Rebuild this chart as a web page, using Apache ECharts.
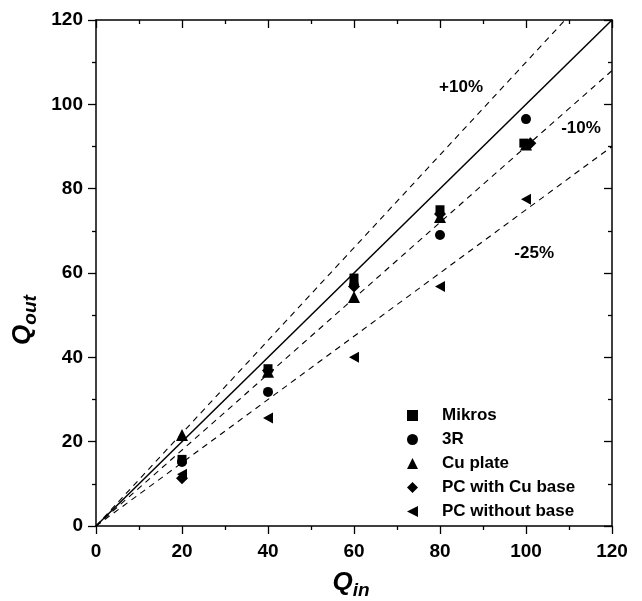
<!DOCTYPE html>
<html><head><meta charset="utf-8">
<script src="https://cdn.jsdelivr.net/npm/echarts@6/dist/echarts.min.js"></script>
<style>html,body{margin:0;padding:0;background:#fff}#c{width:642px;height:601px}</style>
</head><body><div id="c"></div>
<script>
const seriesNames = ['Mikros', '3R', 'Cu plate', 'PC with Cu base', 'PC without base'];
const mikros = [[20,15.8],[40,37.3],[60,58.8],[80,75.0],[99.5,90.8]];
const r3 = [[20,15.2],[40,31.8],[60,57.2],[80,69.0],[100,96.5]];
const cuPlate = [[20,21.6],[40,36.6],[60,54.3],[80,73.3],[100,90.5]];
const pcCuBase = [[20,11.3],[40,36.9],[60,56.8],[80,74.0],[101,90.8]];
const pcNoBase = [[20,12.3],[40,25.6],[60,40.0],[80,56.8],[100,77.5]];
const xTicks = [0,20,40,60,80,100,120];
const yTicks = [0,20,40,60,80,100,120];
const parityLine = [[0,0],[120,120]];
const plus10 = [[0,0],[109.09,120]];
const minus10 = [[0,0],[120,108]];
const minus25 = [[0,0],[120,90]];
const annotTexts = ['+10%','-10%','-25%'];
const annotAt = [[84.9,104.1],[112.8,94.4],[101.9,64.7]];

const font = 'Liberation Sans, Arial, Helvetica, sans-serif';
const leftTri = 'path://M0,5L10,0L10,10Z';
const symbols = ['rect','circle','triangle','diamond',leftTri];
const symSizes = [9,10,12,12,[10,11]];
const chart = echarts.init(document.getElementById('c'), null, {renderer:'canvas'});
const axisLine = {show:true, onZero:false, lineStyle:{color:'#000', width:1.5}};
function mkX(pos, labels){
  return {type:'value', position:pos, min:0, max:120, interval:20,
    axisLine: axisLine, splitLine:{show:false},
    axisTick:{show:true, inside: !labels, length:8, lineStyle:{color:'#000', width:1.3}},
    minorTick:{show:true, splitNumber:2, length:4, lineStyle:{color:'#000', width:1.3}},
    axisLabel:{show:labels, color:'#000', fontFamily:font, fontWeight:'bold', fontSize:19,
      margin: (pos==='bottom') ? 16 : 13}};
}
function sc(i, data){
  return {name:seriesNames[i], type:'scatter', data:data, symbol:symbols[i], symbolSize:symSizes[i],
    itemStyle:{color:'#000', opacity:1}, z:5};
}
function ln(data, dashed){
  return {type:'line', data:data, symbol:'none', silent:true, z:2,
    lineStyle:{color:'#000', width: dashed?1.1:1.5, type: dashed?[6,5]:'solid', opacity:1}};
}
const titleRich = {q:{fontFamily:font, fontWeight:'bold', fontStyle:'italic', fontSize:26, color:'#000'},
        s:{fontFamily:font, fontWeight:'bold', fontStyle:'italic', fontSize:19, color:'#000', padding:[16,0,0,0]}};
const option = {
  animation:false,
  backgroundColor:'#fff',
  grid:{left:96, top:20, width:516, height:506, containLabel:false, outerBoundsMode:'none'},
  xAxis:[
    Object.assign(mkX('bottom', true), {name:'{q|Q}{s|in}', nameLocation:'middle', nameGap:39,
      nameTextStyle:{rich:titleRich, padding:[0,6,0,0]}}),
    mkX('top', false)
  ],
  yAxis:[
    Object.assign(mkX('left', true), {name:'{q|Q}{s|out}', nameLocation:'middle', nameGap:56,
      nameTextStyle:{rich:titleRich, padding:[0,94,0,0]}}),
    mkX('right', false)
  ],
  legend:{orient:'vertical', left:402, top:402, itemWidth:11, itemHeight:11, itemGap:7,
    data: seriesNames.map((n,i)=>({name:n, icon:symbols[i]})),
    textStyle:{fontFamily:font, fontWeight:'bold', fontSize:17, color:'#000', lineHeight:17, padding:[0,0,0,19]}},
  series:[
    ln(parityLine,false), ln(plus10,true), ln(minus10,true), ln(minus25,true),
    sc(0, mikros), sc(1, r3), sc(2, cuPlate), sc(3, pcCuBase), sc(4, pcNoBase),
    {type:'scatter', symbolSize:0, silent:true, z:6, itemStyle:{opacity:1},
      data: annotTexts.map((t,i)=>({value:annotAt[i], name:t})),
      label:{show:true, position:'inside', formatter:p=>p.name, fontFamily:font, fontWeight:'bold', fontSize:17, color:'#000', opacity:1}}
  ]
};
chart.setOption(option);
</script></body></html>
